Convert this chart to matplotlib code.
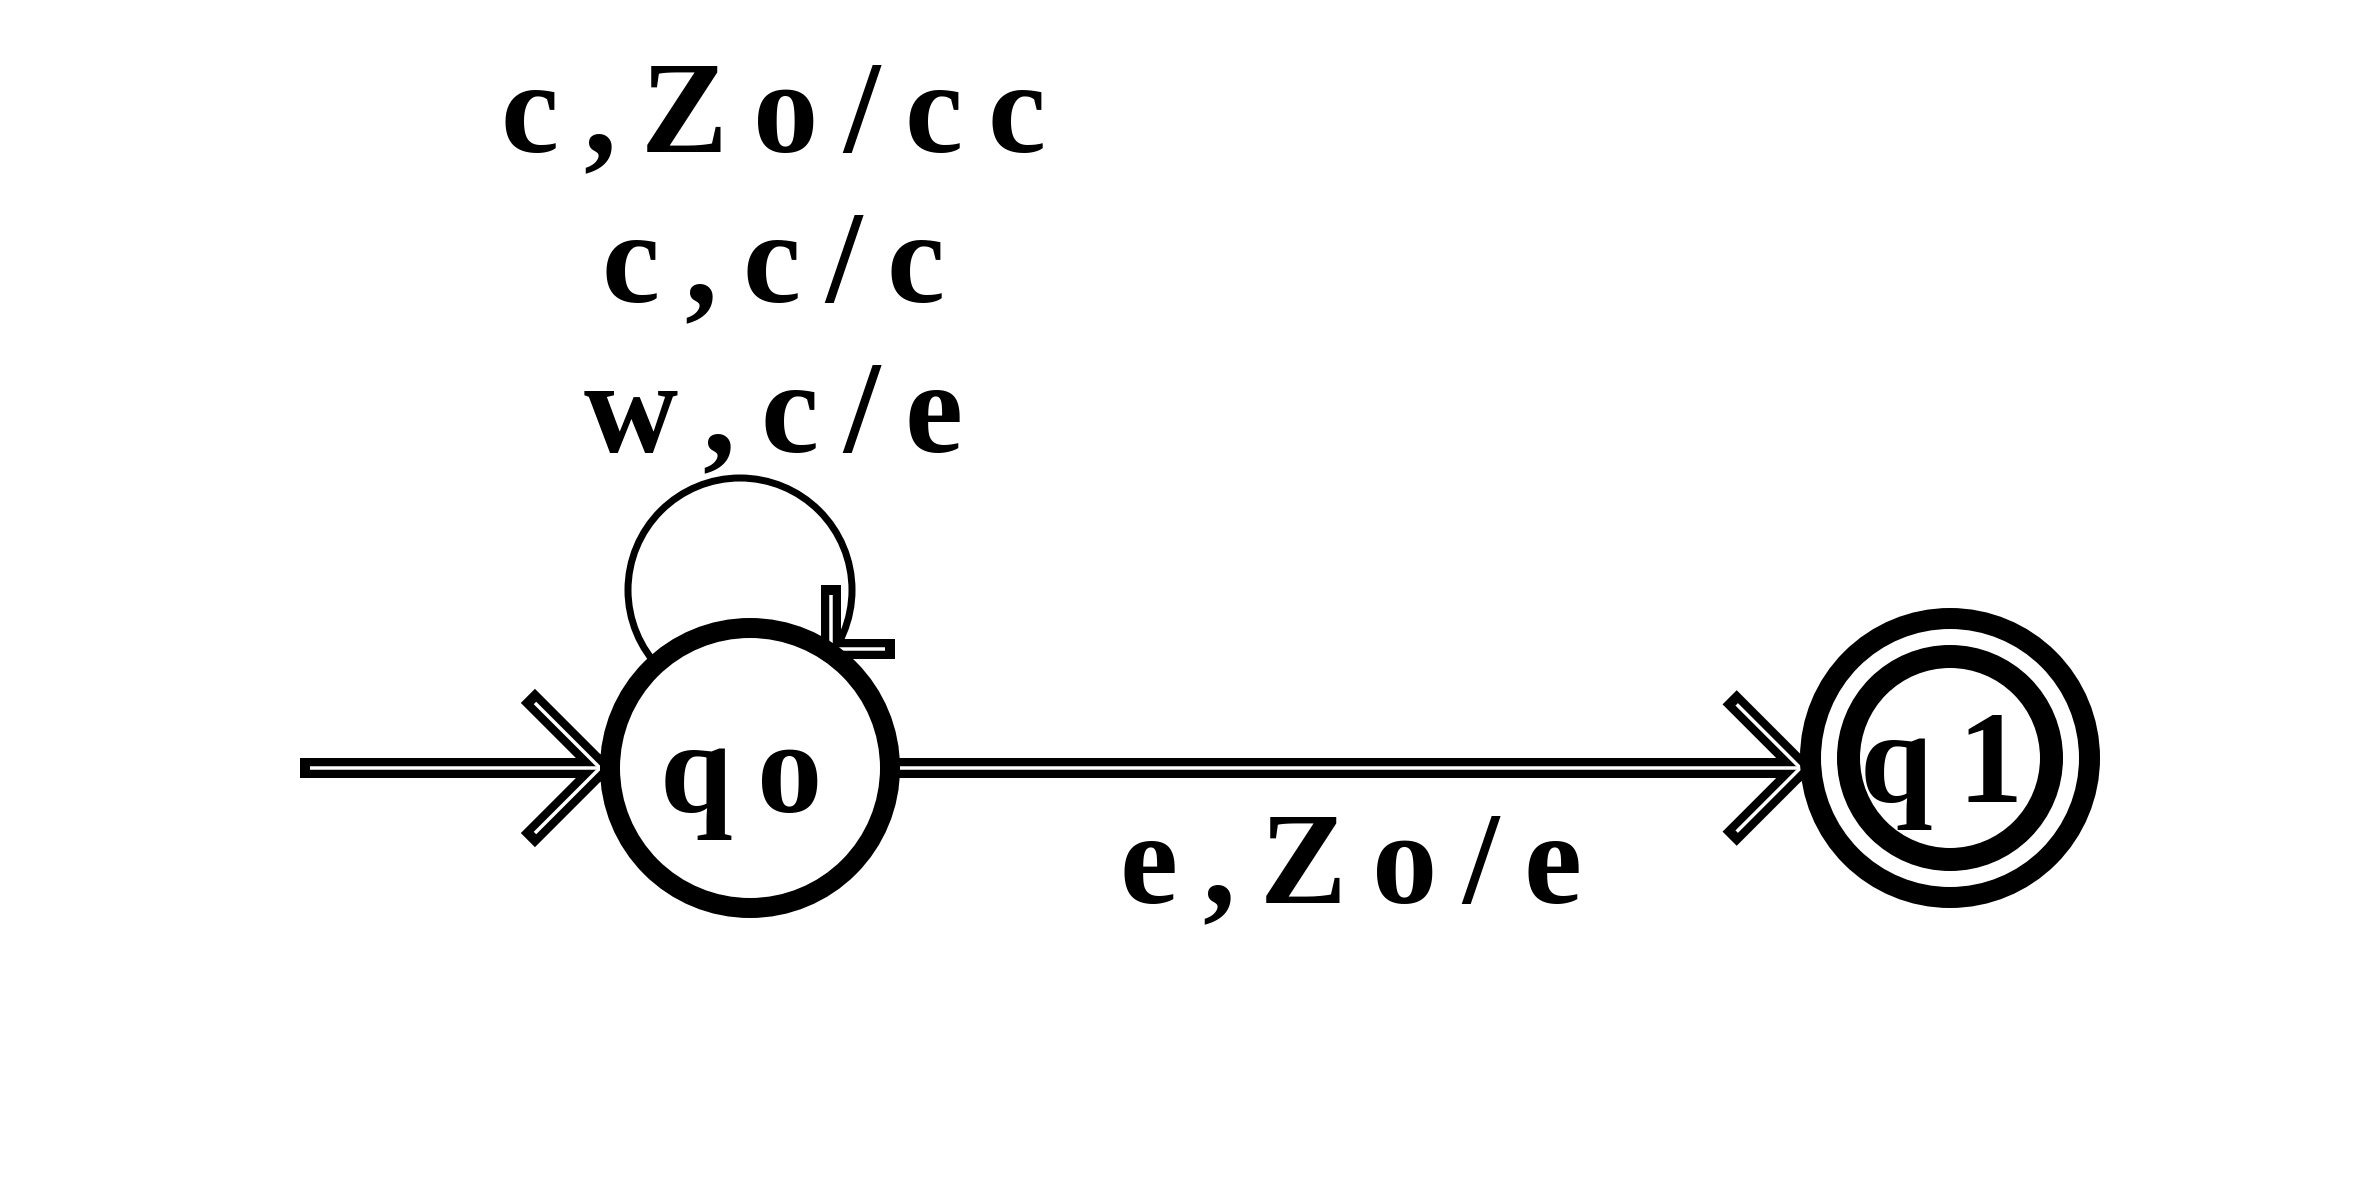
import numpy as np
import matplotlib
matplotlib.use("Agg")
import matplotlib.pyplot as plt
from matplotlib.patches import Circle
from matplotlib.font_manager import FontProperties

# States of the automaton (pixel layout of the picture)
state_names = ["qo", "q1"]
state_x = [750, 1950]
state_y = [768, 758]
state_final = [False, True]

# Transitions
loop_labels = ["c,Zo/cc", "c,c/c", "w,c/e"]   # self loop on qo
edge_label = "e,Zo/e"                          # qo -> q1

W, H = 2362, 1181
fig = plt.figure(figsize=(W / 100, H / 100), dpi=100)
ax = fig.add_axes([0, 0, 1, 1])
ax.set_xlim(0, W)
ax.set_ylim(H, 0)
ax.set_aspect("equal")
ax.axis("off")

renderer = fig.canvas.get_renderer()
fp = FontProperties(family="Liberation Serif", weight="bold", size=94)
PX = 0.72  # points per pixel at dpi 100


def spaced_text(xc, yb, s, gap=25):
    # letters drawn one by one with a wide, even gap between them
    widths = [renderer.get_text_width_height_descent(ch, fp, ismath=False)[0] for ch in s]
    total = sum(widths) + gap * (len(s) - 1)
    x = xc - total / 2
    for ch, w in zip(s, widths):
        ax.text(x + w / 2, yb, ch, fontproperties=fp, ha="center", va="baseline", zorder=10)
        x += w + gap


def double_line(p0, p1):
    xs, ys = [p0[0], p1[0]], [p0[1], p1[1]]
    ax.plot(xs, ys, color="black", lw=20 * PX, solid_capstyle="projecting", zorder=3)
    ax.plot(xs, ys, color="white", lw=3.5 * PX, solid_capstyle="butt", zorder=4)


def arrow_head(tip, direction, length):
    d = np.array(direction, dtype=float)
    d /= np.linalg.norm(d)
    back = -d
    for ang in (np.pi / 4, -np.pi / 4):
        c, s = np.cos(ang), np.sin(ang)
        b = np.array([c * back[0] - s * back[1], s * back[0] + c * back[1]])
        double_line(tip, np.array(tip) + length * b)


r_out = 150
q0 = np.array([state_x[0], state_y[0]], dtype=float)
q1 = np.array([state_x[1], state_y[1]], dtype=float)

# initial arrow into qo
start_tip = (q0[0] - r_out, q0[1])
double_line((310, q0[1]), start_tip)
arrow_head(start_tip, (1, 0), 92)

# edge qo -> q1
y_edge = q0[1]
tip1 = (q1[0] - np.sqrt(r_out ** 2 - (y_edge - q1[1]) ** 2), y_edge)
double_line((q0[0] + r_out, y_edge), tip1)
arrow_head(tip1, (1, 0), 90)
spaced_text((q0[0] + r_out + tip1[0]) / 2, 903, edge_label)

# self loop on qo
loop_c = np.array([740.0, 590.0])
loop_r = 112
ax.add_patch(Circle(loop_c, loop_r, fill=False, lw=7 * PX, color="black", zorder=1))
d = np.linalg.norm(loop_c - q0)
a = (d ** 2 + r_out ** 2 - loop_r ** 2) / (2 * d)
h = np.sqrt(r_out ** 2 - a ** 2)
u = (loop_c - q0) / d
perp = np.array([-u[1], u[0]])
loop_tip = q0 + a * u + h * perp
if loop_tip[0] < q0[0]:
    loop_tip = q0 + a * u - h * perp
arrow_head(loop_tip + np.array([-6, 3]), (-1, 1), 54)
for i, lab in enumerate(loop_labels):
    spaced_text(773, 152 + 150 * i, lab)

# states
for name, x, y, final in zip(state_names, state_x, state_y, state_final):
    if final:
        ax.add_patch(Circle((x, y), 139.5, facecolor="white", edgecolor="black", lw=21 * PX, zorder=5))
        ax.add_patch(Circle((x, y), 101.5, facecolor="white", edgecolor="black", lw=23 * PX, zorder=6))
    else:
        ax.add_patch(Circle((x, y), 140, facecolor="white", edgecolor="black", lw=20 * PX, zorder=5))
    spaced_text(x - 9, y + 44, name, gap=25)

fig.savefig("out.png", dpi=100, facecolor="white")
